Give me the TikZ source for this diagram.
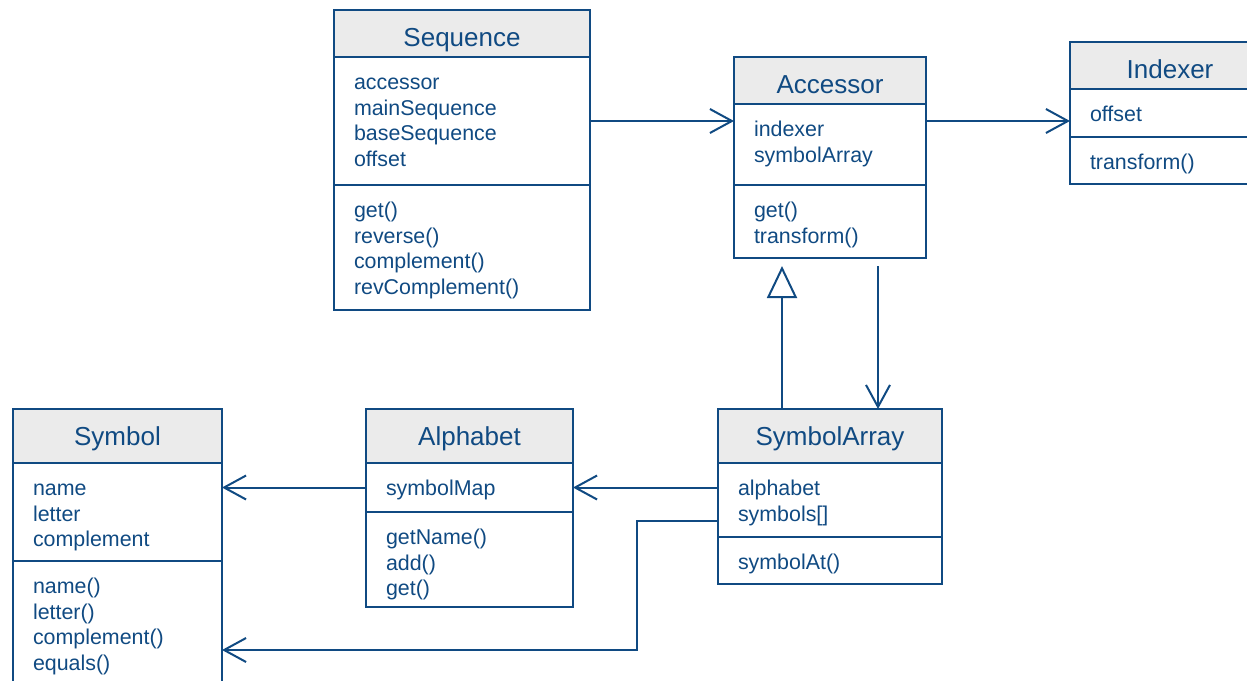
\documentclass[tikz,border=0pt]{standalone}
\usepackage{fontspec}
\setmainfont{Liberation Sans}
\usetikzlibrary{arrows.meta,positioning}
\definecolor{uml}{HTML}{104A82}
\definecolor{umlgris}{HTML}{EBEBEB}

\begin{document}
\begin{tikzpicture}[x=1pt,y=-1pt,line width=2pt,color=uml,
  % alto de una seccion, texto alineado arriba
  alto/.code 2 args={\pgfmathsetmacro\profundo{#1-#2}%
    \pgfkeysalso{minimum height=#1pt,text height=#2pt,text depth=\profundo pt}},
  titulo/.style={draw,fill=umlgris,anchor=north west,inner sep=0pt,outer sep=0pt,
    alto={#1}{36.5},font=\fontsize{26}{30}\selectfont},
  campos/.style={draw,anchor=north west,align=left,inner xsep=20pt,inner ysep=0pt,
    outer sep=0pt,alto={#1}{32.5},font=\fontsize{21.4}{25.7}\selectfont},
  asoc/.style={-{Straight Barb[length=22pt,width=24pt]}},
  hereda/.style={-{Triangle[open,fill=white,length=32pt,width=30pt]}}]
  \clip (0,0) rectangle (1247,680);
  % Sequence
  \node[titulo=47,minimum width=256pt] (seqT) at (334,10) {Sequence};
  \node[campos=128,text width=216pt] (seqA) at (seqT.south west)
    {accessor\\mainSequence\\baseSequence\\offset};
  \node[campos=125,text width=216pt] (seqM) at (seqA.south west)
    {get()\\reverse()\\complement()\\revComplement()};
  % Accessor
  \node[titulo=47,minimum width=192pt] (accT) at (734,57) {Accessor};
  \node[campos=81,text width=152pt] (accA) at (accT.south west)
    {indexer\\symbolArray};
  \node[campos=73,text width=152pt] (accM) at (accA.south west)
    {get()\\transform()};
  % Indexer
  \node[titulo=47,minimum width=200pt] (idxT) at (1070,42) {Indexer};
  \node[campos=48,text width=160pt] (idxA) at (idxT.south west) {offset};
  \node[campos=47,text width=160pt] (idxM) at (idxA.south west) {transform()};
  % Symbol
  \node[titulo=54,minimum width=209pt] (symT) at (13,409) {Symbol};
  \node[campos=98,text width=169pt] (symA) at (symT.south west)
    {name\\letter\\complement};
  \node[campos=126,text width=169pt] (symM) at (symA.south west)
    {name()\\letter()\\complement()\\equals()};
  % Alphabet
  \node[titulo=54,minimum width=207pt] (alfT) at (366,409) {Alphabet};
  \node[campos=49,text width=167pt] (alfA) at (alfT.south west) {symbolMap};
  \node[campos=95,text width=167pt] (alfM) at (alfA.south west)
    {getName()\\add()\\get()};
  % SymbolArray
  \node[titulo=54,minimum width=224pt] (sarT) at (718,409) {SymbolArray};
  \node[campos=74,text width=184pt] (sarA) at (sarT.south west)
    {alphabet\\symbols[]};
  \node[campos=47,text width=184pt] (sarM) at (sarA.south west) {symbolAt()};
  % asociaciones
  \draw[asoc] (seqA.east) -- (seqA.east -| accA.west);
  \draw[asoc] (seqA.east -| accA.east) -- (seqA.east -| idxA.west);
  \draw[asoc,shorten <=8pt] ([xshift=-48pt]accM.south east) -- ([xshift=-48pt]accM.south east |- sarT.north);
  \draw[hereda,shorten >=8pt] ([xshift=64pt]sarT.north west) -- ([xshift=64pt]sarT.north west |- accM.south);
  \draw[asoc] (sarA.west |- alfA.east) -- (alfA.east);
  \draw[asoc] (alfA.west) -- (alfA.west -| symA.east);
  \coordinate (codo) at (637,650);
  \draw[asoc] ([yshift=-21pt]sarA.west) -| (codo) -- (codo -| symM.east);
\end{tikzpicture}
\end{document}
